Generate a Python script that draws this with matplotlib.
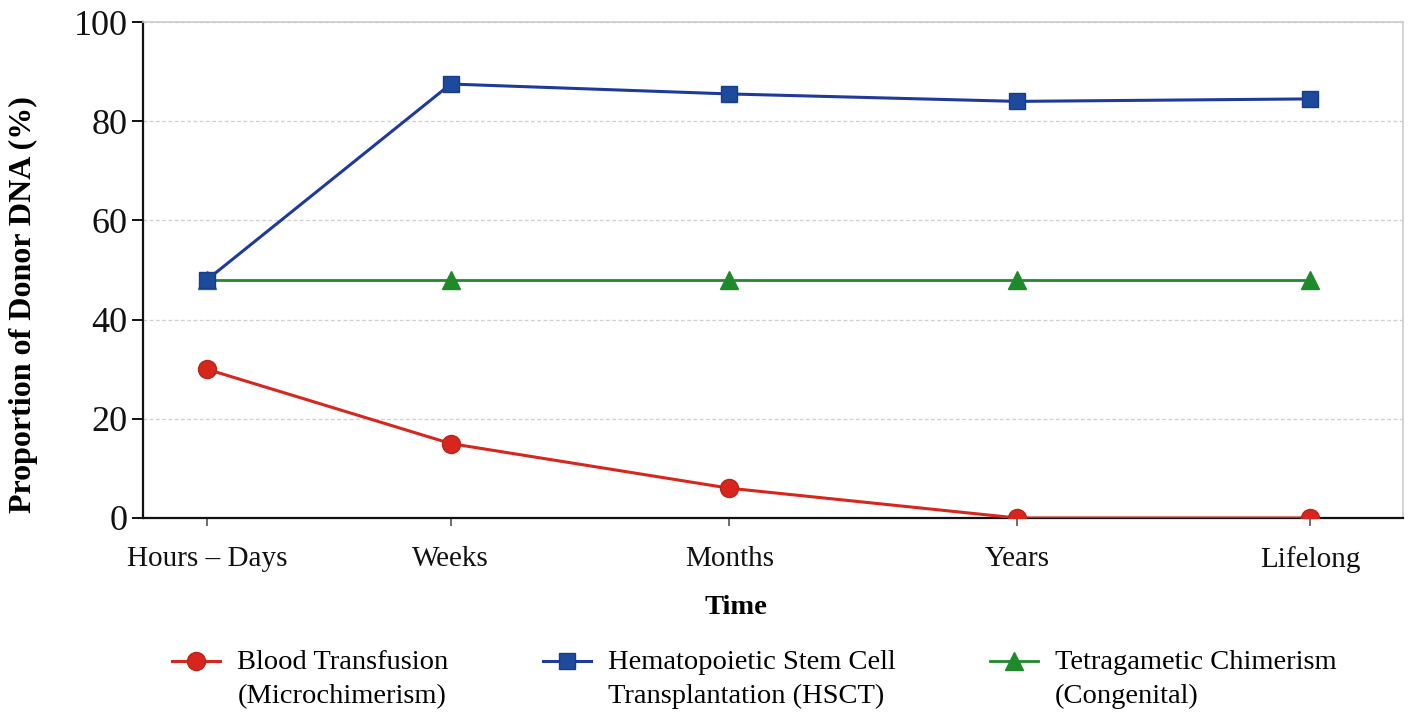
import matplotlib
matplotlib.use("Agg")
import matplotlib.pyplot as plt
from matplotlib.legend_handler import HandlerLine2D

# categories and their (uneven) positions along the time axis
time_labels = ["Hours \u2013 Days", "Weeks", "Months", "Years", "Lifelong"]
time_pos = [0.0, 0.84, 1.80, 2.79, 3.80]

blood = [30, 15, 6, 0, 0]
hsct = [48, 87.5, 85.5, 84, 84.5]
tetra = [48, 48, 48, 48, 48]

series_names = [
    "Blood Transfusion\n(Microchimerism)",
    "Hematopoietic Stem Cell\nTransplantation (HSCT)",
    "Tetragametic Chimerism\n(Congenital)",
]


class TopLineHandler(HandlerLine2D):
    """Legend handle aligned with the first line of a two-line label."""

    def create_artists(self, legend, orig_handle, xdescent, ydescent,
                       width, height, fontsize, trans):
        artists = super().create_artists(legend, orig_handle, xdescent, ydescent,
                                         width, height, fontsize, trans)
        for a in artists:
            a.set_ydata([y + height * 0.92 for y in a.get_ydata()])
        return artists


plt.rcParams["font.family"] = ["Liberation Serif", "DejaVu Serif"]

fig = plt.figure(figsize=(14.1, 7.2), dpi=100)
ax = fig.add_axes([0.1014, 0.2806, 0.8936, 0.6888])

l_blood, = ax.plot(time_pos, blood, "o-", color="#d6261d", lw=2.2, ms=13,
                   mec="#b8261b", label=series_names[0], zorder=4)
l_tetra, = ax.plot(time_pos, tetra, "^-", color="#1e8a2c", lw=2.0, ms=13,
                   label=series_names[2], zorder=2)
l_hsct, = ax.plot(time_pos, hsct, "s-", color="#1f3a9a", lw=2.2, ms=12,
                  mfc="#1e4a9c", mec="#173c8c", label=series_names[1], zorder=3)

ax.set_xlim(-0.22, 4.12)
ax.set_ylim(0, 100)
ax.set_yticks([0, 20, 40, 60, 80, 100])
ax.set_xticks(time_pos)
ax.set_xticklabels(time_labels)

ax.grid(axis="y", linestyle=(0, (3, 2)), color="#cfcfcf", lw=0.9)
ax.set_axisbelow(True)

for side in ["top", "right"]:
    ax.spines[side].set_color("#cccccc")
    ax.spines[side].set_linewidth(1.2)
for side in ["left", "bottom"]:
    ax.spines[side].set_color("#111111")
    ax.spines[side].set_linewidth(1.6)

ax.tick_params(axis="y", labelsize=26, length=8, width=1.4, pad=3, colors="#111111")
ax.tick_params(axis="x", labelsize=21, length=6, width=1.2, pad=14,
               color="#555555", labelcolor="#111111")

ax.set_ylabel("Proportion of Donor DNA (%)", fontsize=23, fontweight="bold")
ax.yaxis.set_label_coords(-0.083, 0.43)
ax.set_xlabel("Time", fontsize=20.5, fontweight="bold")
ax.xaxis.set_label_coords(0.471, -0.155)

handler = TopLineHandler()
leg = fig.legend([l_blood, l_hsct, l_tetra], series_names, loc="center",
                 bbox_to_anchor=(0.535, 0.056), ncol=3, frameon=False,
                 fontsize=20.5, handlelength=1.7, handletextpad=0.6,
                 columnspacing=3.3, markerscale=1.0,
                 handler_map={l_blood: handler, l_hsct: handler, l_tetra: handler})
for t in leg.get_texts():
    t.set_linespacing(1.45)

fig.savefig("out.png", dpi=100)
